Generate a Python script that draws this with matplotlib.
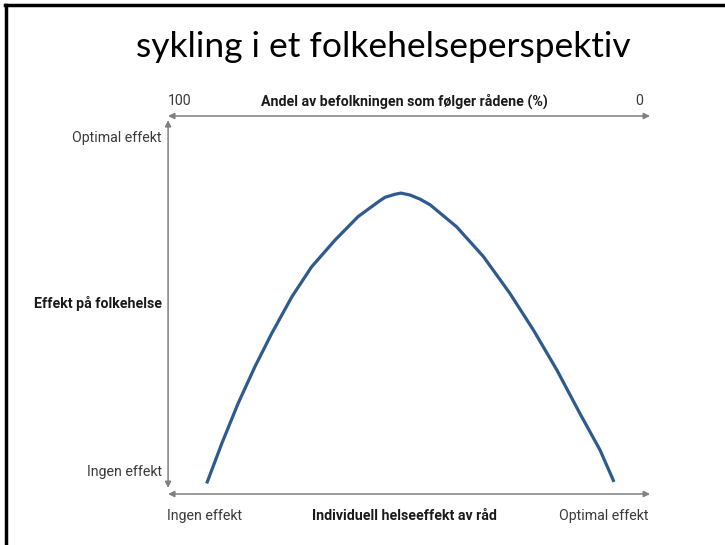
import matplotlib.pyplot as plt
from matplotlib.lines import Line2D

# Kurve (x: individuell helseeffekt 0-100, y: effekt på folkehelse 0-100)
individuell = [7.65, 10.8, 14.2, 17.7, 21.2, 25.4, 29.5, 34.4, 39.2, 43.4, 44.8, 46.9,
               48.1, 50.0, 52.1, 54.2, 59.7, 65.3, 70.8, 75.7, 80.6, 85.4, 89.6, 92.5]
folkehelse = [2.8, 13.4, 24.0, 33.7, 42.5, 52.2, 60.1, 67.2, 73.4, 77.3, 78.5, 79.3,
              79.6, 79.1, 78.0, 76.5, 70.7, 62.8, 53.1, 43.4, 32.8, 21.3, 11.6, 3.2]

tittel = "sykling i et folkehelseperspektiv"
topp_tekst = ["100", "Andel av befolkningen som følger rådene (%)", "0"]
bunn_tekst = ["Ingen effekt", "Individuell helseeffekt av råd", "Optimal effekt"]
venstre_tekst = ["Optimal effekt", "Effekt på folkehelse", "Ingen effekt"]

W, H = 725, 545
fig = plt.figure(figsize=(W / 100, H / 100), dpi=100)
fig.patch.set_facecolor("white")

# ramme (øverst og venstre)
fig.add_artist(Line2D([5 / W, 1], [1 - 5 / H, 1 - 5 / H], color="black", lw=2.5))
fig.add_artist(Line2D([6 / W, 6 / W], [0, 1 - 5 / H], color="black", lw=2.5))

fig.text(383 / W, 1 - 47 / H, tittel, ha="center", va="center",
         fontsize=25.5, family=["Lato", "DejaVu Sans"], color="black")

ax = fig.add_axes([170 / W, 1 - 494 / H, 480 / W, 378 / H])
ax.set_xlim(0, 100)
ax.set_ylim(0, 100)
ax.axis("off")

ax.plot(individuell, folkehelse, color="#2e5a8e", lw=2.3,
        solid_capstyle="butt", solid_joinstyle="round")

grå = "#808080"
pil = dict(arrowstyle="<|-|>", color=grå, lw=1.1, mutation_scale=9, shrinkA=0, shrinkB=0)
ax.annotate("", xy=(1.0, 1.0), xytext=(-0.004, 1.0), xycoords="axes fraction",
            arrowprops=pil, annotation_clip=False)
ax.annotate("", xy=(1.0, 0.0), xytext=(-0.004, 0.0), xycoords="axes fraction",
            arrowprops=pil, annotation_clip=False)
ax.annotate("", xy=(-0.004, 0.989), xytext=(-0.004, 0.016), xycoords="axes fraction",
            arrowprops=pil, annotation_clip=False)

font = ["Roboto", "DejaVu Sans"]
fs = 10.2
grå_tekst = "#3a3a3a"
mørk_tekst = "#1a1a1a"

for tekst, x, vekt in zip(topp_tekst, [0.021, 0.4875, 0.977], ["normal", "bold", "normal"]):
    ax.text(x, 1.040, tekst, transform=ax.transAxes, ha="center", va="center",
            fontsize=fs, family=font, fontweight=vekt,
            color=mørk_tekst if vekt == "bold" else grå_tekst)

for tekst, x, vekt in zip(bunn_tekst, [0.071, 0.4875, 0.904], ["normal", "bold", "normal"]):
    ax.text(x, -0.058, tekst, transform=ax.transAxes, ha="center", va="center",
            fontsize=fs, family=font, fontweight=vekt,
            color=mørk_tekst if vekt == "bold" else grå_tekst)

for tekst, y, vekt in zip(venstre_tekst, [0.942, 0.505, 0.058], ["normal", "bold", "normal"]):
    ax.text(-0.017, y, tekst, transform=ax.transAxes, ha="right", va="center",
            fontsize=fs, family=font, fontweight=vekt,
            color=mørk_tekst if vekt == "bold" else grå_tekst)

fig.savefig("out.png", dpi=100, facecolor="white")
